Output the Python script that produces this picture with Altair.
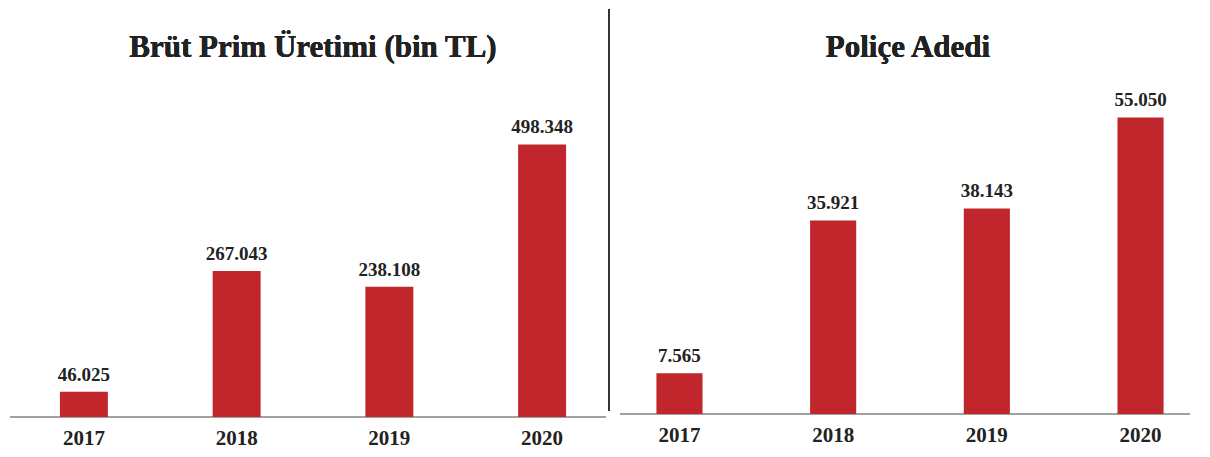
import altair as alt
import pandas as pd

years = ["2017", "2018", "2019", "2020"]
premium = [46025, 267043, 238108, 498348]
policies = [7565, 35921, 38143, 55050]
title_left = "Brüt Prim Üretimi (bin TL)"
title_right = "Poliçe Adedi"

BAR = "#C0262C"
TXT = "#222222"
FONT = "Liberation Serif"


def fmt(v):
    return f"{v:,}".replace(",", ".")


df_l = pd.DataFrame({"year": years, "value": premium, "label": [fmt(v) for v in premium]})
df_r = pd.DataFrame({"year": years, "value": policies, "label": [fmt(v) for v in policies]})


def panel(df, width, height, ymax, title, title_x, pad_outer, pad_inner, sep=False):
    x = alt.X("year:N", sort=years, title=None,
              scale=alt.Scale(paddingOuter=pad_outer, paddingInner=pad_inner),
              axis=alt.Axis(domain=False, ticks=False, labelAngle=0, labelFont=FONT,
                            labelFontSize=21, labelFontWeight="bold", labelColor=TXT,
                            labelPadding=10, grid=False))
    y = alt.Y("value:Q", scale=alt.Scale(domain=[0, ymax]), axis=None)
    base = alt.Chart(df)
    bars = base.mark_bar(color=BAR).encode(x=x, y=y)
    labels = base.mark_text(font=FONT, fontSize=19, fontWeight="bold", color=TXT,
                            baseline="bottom", dy=-7).encode(x=x, y=y, text="label:N")
    axis_line = base.mark_rule(color="#a0a0a0", strokeWidth=1.5).encode(
        x=alt.value(2), x2=alt.value(width - 12), y=alt.value(height))
    ttl = base.mark_text(font=FONT, fontSize=31, fontWeight="bold", color=TXT).encode(
        x=alt.value(title_x), y=alt.value(39), text=alt.value(title))
    layers = [axis_line, bars, labels, ttl]
    if sep:
        layers.append(base.mark_rule(color="#333333", strokeWidth=1.5).encode(
            x=alt.value(601), y=alt.value(0), y2=alt.value(402)))
    return alt.layer(*layers).properties(width=width, height=height)


left = panel(df_l, 610, 408, 746000, title_left, 305, 0.34, 0.686, sep=True)
right = panel(df_r, 584, 405, 75170, title_right, 290, 0.25, 0.70)

chart = alt.hconcat(left, right, spacing=0).properties(
    padding=0, background="white").configure_view(strokeWidth=0, stroke="transparent")

chart.save("out.html", embed_options={"renderer": "svg", "actions": False})
